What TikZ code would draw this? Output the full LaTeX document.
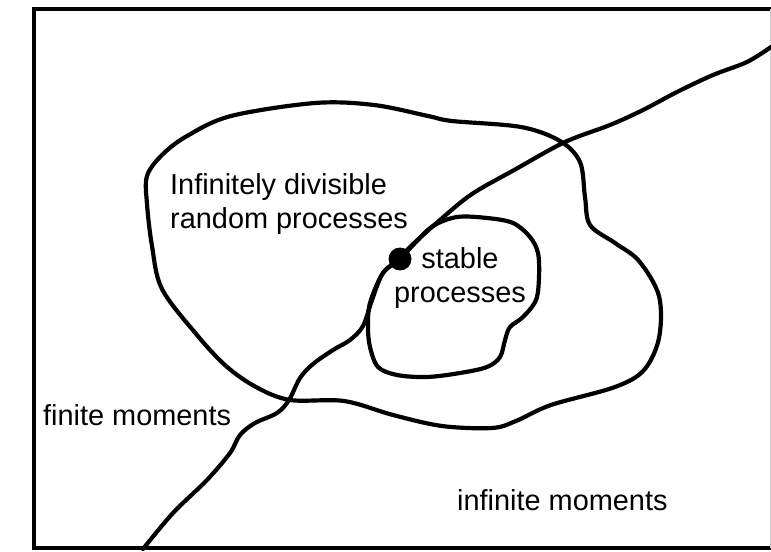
\documentclass[tikz,border=0pt]{standalone}
\usepackage{fontspec}
\setmainfont{Liberation Sans}
\begin{document}
\begin{tikzpicture}[x=1bp, y=-1bp,
  curve/.style={line width=4.2pt, line join=round, line cap=round},
  lbl/.style={inner sep=0pt, font=\fontsize{29}{34}\selectfont},
  dotmark/.style={circle, fill=black, inner sep=0pt, minimum size=23bp}
]
  \useasboundingbox (0,0) rectangle (771,552);
  \draw[line width=4pt] (771,9) -- (34,9) -- (34,548) -- (771,548);
  \draw[gray!40, line width=1pt] (770,9) -- (770,548);

  \draw[curve] plot[smooth cycle, tension=0.55] coordinates {
    (187,136) (231,116) (315,103) (374,105) (428,116) (452,121) (521,127)
    (560,141) (580,162) (585,197) (590,225) (615,243) (639,261) (659,296)
    (659,338) (644,370) (615,387) (551,405) (516,421) (492,428) (442,426)
    (393,415) (344,401) (290,400) (256,387) (226,366) (197,335) (162,289)
    (152,246) (147,204) (147,176) (162,155)};

  \draw[curve] plot[smooth cycle, tension=0.55] coordinates {
    (433,226) (457,217) (487,218) (513,223) (530,237) (538,253) (539,277)
    (536,300) (523,317) (510,327) (505,340) (500,357) (487,367) (460,373)
    (427,377) (397,375) (378,367) (370,347) (368,327) (370,303) (383,273)
    (400,259) (415,243)};

  \draw[curve] plot[smooth, tension=0.55] coordinates {
    (143,549) (173,513) (207,480) (230,453) (240,435) (255,423) (277,413)
    (289,400) (300,378) (313,364) (333,350) (350,340) (363,326) (372,300)
    (383,273) (400,259) (410,247) (440,220) (472,194) (516,169) (565,142)
    (610,125) (643,110) (677,92) (713,75) (747,62) (771,47)};

  \node[dotmark] (dot) at (400,259) {};

  \node[lbl, anchor=north west, align=left] (idp) at (170,173) {Infinitely divisible\\random processes};
  \node[lbl, anchor=north, align=center] (sp) at (460,247) {stable\\processes};
  \node[lbl, anchor=base west] (fm) at (43,425) {finite moments};
  \node[lbl, anchor=base west] (im) at (457,510) {infinite moments};
\end{tikzpicture}
\end{document}
